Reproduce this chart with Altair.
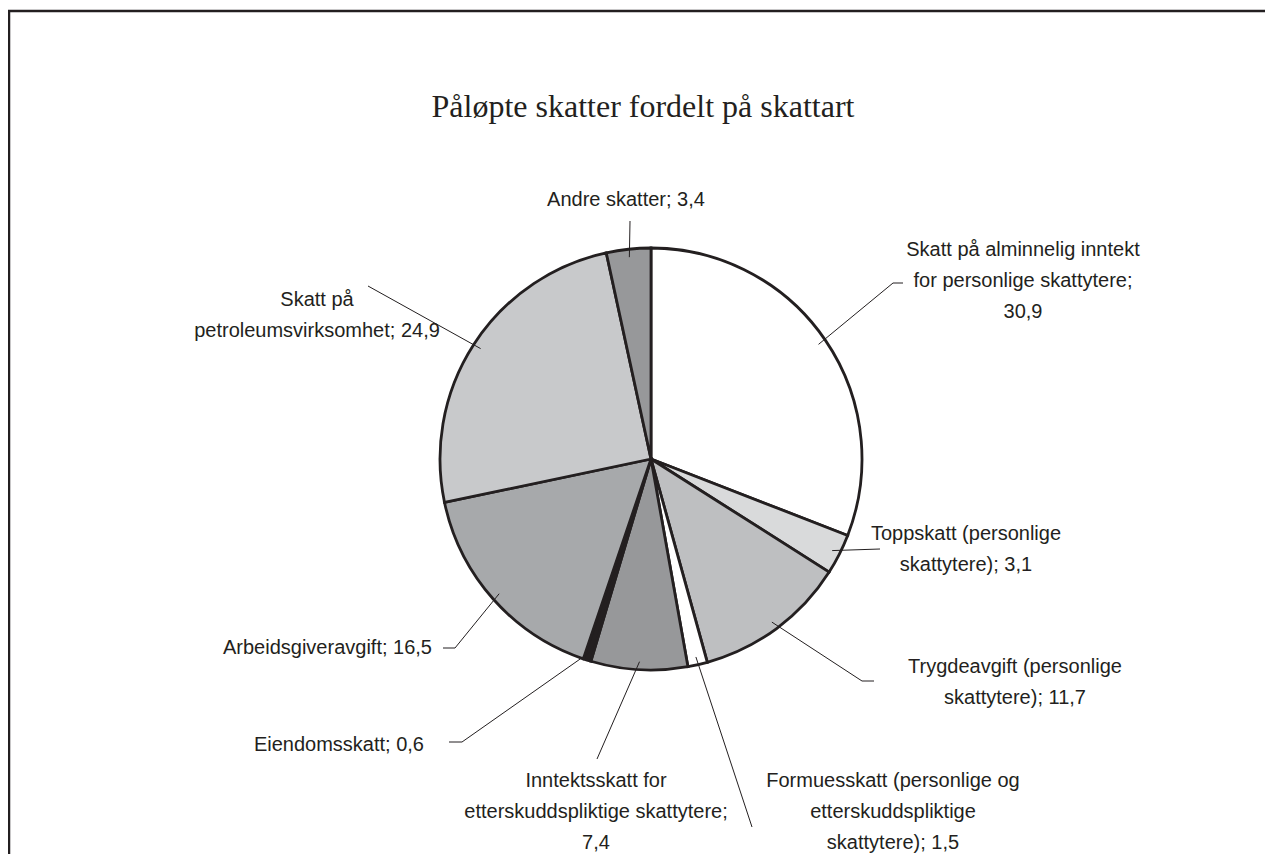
import altair as alt
import numpy as np
import pandas as pd

# ---------------- data ----------------
categories = [
    "Skatt på alminnelig inntekt for personlige skattytere",
    "Toppskatt (personlige skattytere)",
    "Trygdeavgift (personlige skattytere)",
    "Formuesskatt (personlige og etterskuddspliktige skattytere)",
    "Inntektsskatt for etterskuddspliktige skattytere",
    "Eiendomsskatt",
    "Arbeidsgiveravgift",
    "Skatt på petroleumsvirksomhet",
    "Andre skatter",
]
values = [30.9, 3.1, 11.7, 1.5, 7.4, 0.6, 16.5, 24.9, 3.4]
label_prefix = [
    "Skatt på alminnelig inntekt\nfor personlige skattytere;\n",
    "Toppskatt (personlige\nskattytere); ",
    "Trygdeavgift (personlige\nskattytere); ",
    "Formuesskatt (personlige og\netterskuddspliktige\nskattytere); ",
    "Inntektsskatt for\netterskuddspliktige skattytere;\n",
    "Eiendomsskatt; ",
    "Arbeidsgiveravgift; ",
    "Skatt på\npetroleumsvirksomhet; ",
    "Andre skatter; ",
]
title_text = "Påløpte skatter fordelt på skattart"

# ---------------- styles / layout ----------------
colors = ["#ffffff", "#d9dadb", "#bebfc1", "#ffffff", "#97989a",
          "#231f20", "#a7a9ab", "#c8c9cb", "#97989a"]
W, H = 1257, 846
CX, CY, R = 643, 451, 211
LEADER_R = 203
ink = "#231f20"
# label anchor (first line centre) offsets relative to pie centre, and alignment
label_dx = [372, 315, 364, 242, -55, -227, -219, -334, -25]
label_dy = [-209, 75, 208, 322, 322, 286, 189, -159, -259]
label_align = ["center", "center", "center", "center", "center",
               "right", "right", "center", "center"]
# leader line extra points relative to pie centre
leader_pts = [
    [(242, -176), (252, -176)],
    [(229, 90)],
    [(211, 222), (223, 222)],
    [(101, 368)],
    [(-54, 300)],
    [(-189, 283), (-202, 283)],
    [(-196, 189), (-208, 189)],
    [(-283, -173)],
    [(-21, -238)],
]

# ---------------- tables ----------------
df = pd.DataFrame({"category": categories, "value": values,
                   "order": list(range(len(values)))})

total = sum(values)
cum = np.cumsum([0] + values[:-1])
mid = [(c + v / 2) / total * 2 * np.pi for c, v in zip(cum, values)]

rows = []
for i, a in enumerate(mid):
    pts = [(LEADER_R * np.sin(a), -LEADER_R * np.cos(a))] + leader_pts[i]
    for k, (dx, dy) in enumerate(pts):
        rows.append({"id": i, "k": k, "x": CX + dx, "y": CY + dy})
lines_df = pd.DataFrame(rows)

lab = pd.DataFrame({
    "text": [p + f"{v:.1f}".replace(".", ",") for p, v in zip(label_prefix, values)],
    "x": [CX + d for d in label_dx],
    "y": [CY + d for d in label_dy],
    "align": label_align,
})

xs = alt.Scale(domain=[0, W], range=[0, W], zero=False, nice=False)
ys = alt.Scale(domain=[0, H], range=[0, H], zero=False, nice=False)

pie = alt.Chart(df).mark_arc(stroke=ink, strokeWidth=2.8, strokeJoin="miter").encode(
    theta=alt.Theta("value:Q", stack=True),
    order=alt.Order("order:Q"),
    color=alt.Color("category:N", scale=alt.Scale(domain=categories, range=colors),
                    legend=None),
    x=alt.value(CX), y=alt.value(CY), radius=alt.value(R),
)

leaders = alt.Chart(lines_df).mark_line(color=ink, strokeWidth=1).encode(
    x=alt.X("x:Q", scale=xs, axis=None),
    y=alt.Y("y:Q", scale=ys, axis=None),
    detail="id:N",
    order="k:Q",
)

font = "Liberation Sans"
txt_c = alt.Chart(lab).transform_filter(alt.datum.align == "center").mark_text(
    font=font, fontSize=20, color=ink, align="center", baseline="middle",
    lineBreak="\n", lineHeight=31,
).encode(x=alt.X("x:Q", scale=xs, axis=None), y=alt.Y("y:Q", scale=ys, axis=None),
         text="text:N")
txt_r = alt.Chart(lab).transform_filter(alt.datum.align == "right").mark_text(
    font=font, fontSize=20, color=ink, align="right", baseline="middle",
    lineBreak="\n", lineHeight=31,
).encode(x=alt.X("x:Q", scale=xs, axis=None), y=alt.Y("y:Q", scale=ys, axis=None),
         text="text:N")

title = alt.Chart(pd.DataFrame({"t": [title_text]})).mark_text(
    font="Liberation Serif", fontSize=32, color=ink, align="center", baseline="middle",
).encode(x=alt.value(635), y=alt.value(99), text="t:N")

frame_top = alt.Chart(pd.DataFrame({"a": [0]})).mark_rule(color=ink, strokeWidth=2.5).encode(
    x=alt.value(0), x2=alt.value(W), y=alt.value(3))
frame_left = alt.Chart(pd.DataFrame({"a": [0]})).mark_rule(color=ink, strokeWidth=2.5).encode(
    x=alt.value(1), y=alt.value(2), y2=alt.value(H))

chart = alt.layer(frame_top, frame_left, pie, leaders, txt_c, txt_r, title).properties(
    width=W, height=H, autosize=alt.AutoSizeParams(type="none"), padding=0,
    background="white",
).configure_view(stroke="transparent", strokeWidth=0)

chart.save("out.html", embed_options={"renderer": "svg", "actions": False})
